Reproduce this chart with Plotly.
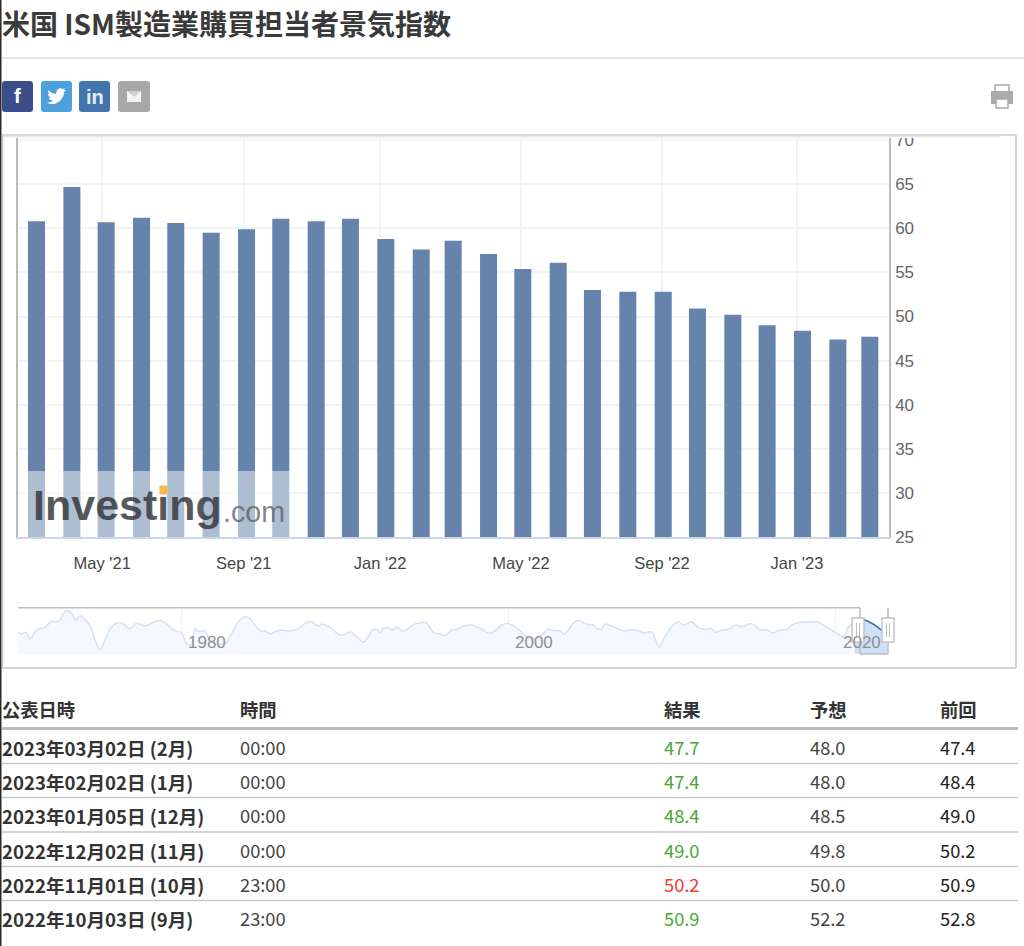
"""米国 ISM製造業購買担当者景気指数: bar chart, navigator strip and release table."""
import plotly.graph_objects as go

W, H = 1024, 946
CJK = "Noto Sans CJK JP"
LATIN = "Liberation Sans"

# main bars, one per month
MONTHS = [
    "2021-03-01", "2021-04-01", "2021-05-01", "2021-06-01", "2021-07-01",
    "2021-08-01", "2021-09-01", "2021-10-01", "2021-11-01", "2021-12-01",
    "2022-01-01", "2022-02-01", "2022-03-01", "2022-04-01", "2022-05-01",
    "2022-06-01", "2022-07-01", "2022-08-01", "2022-09-01", "2022-10-01",
    "2022-11-01", "2022-12-01", "2023-01-01", "2023-02-01", "2023-03-01",
]
PMI = [
    60.8, 64.7, 60.7, 61.2, 60.6, 59.5, 59.9, 61.1, 60.8, 61.1, 58.8, 57.6, 58.6,
    57.1, 55.4, 56.1, 53.0, 52.8, 52.8, 50.9, 50.2, 49.0, 48.4, 47.4, 47.7,
]
X_TICKS = ["2021-04-27 14:00", "2021-08-29 12:00", "2021-12-27 00:00",
           "2022-04-29 10:00", "2022-08-30 22:00", "2022-12-27 04:00"]
X_LABELS = ["May '21", "Sep '21", "Jan '22", "May '22", "Sep '22", "Jan '23"]
Y_TICKS = [25, 30, 35, 40, 45, 50, 55, 60, 65, 70]

# navigator history
NAV_YEARS = [
    1970.07, 1970.25, 1970.46, 1970.6, 1970.8, 1971.0, 1971.27, 1971.68, 1972.03, 1972.56,
    1972.8, 1973.05, 1973.31, 1973.58, 1973.82, 1974.19, 1974.47, 1974.74, 1975.05, 1975.35,
    1975.76, 1976.17, 1976.47, 1976.84, 1977.29, 1977.8, 1978.1, 1978.61, 1979.02, 1979.53,
    1980.04, 1980.35, 1980.65, 1980.86, 1981.06, 1981.37, 1981.67, 1981.98, 1982.59, 1982.79,
    1983.1, 1983.51, 1983.81, 1984.12, 1984.42, 1984.83, 1985.14, 1985.48, 1985.85, 1986.26,
    1986.67, 1987.18, 1987.73, 1987.99, 1988.4, 1988.64, 1989.11, 1989.32, 1989.68, 1990.03,
    1990.38, 1990.74, 1991.15, 1991.46, 1991.72, 1991.97, 1992.21, 1992.42, 1992.68, 1992.95,
    1993.15, 1993.5, 1993.7, 1994.21, 1994.62, 1994.98, 1995.43, 1995.84, 1996.15, 1996.55,
    1996.86, 1997.27, 1997.72, 1998.29, 1998.86, 1999.2, 1999.61, 2000.02, 2000.43, 2001.04,
    2001.55, 2002.16, 2002.47, 2002.88, 2003.18, 2003.43, 2004.1, 2004.4, 2004.81, 2005.18,
    2005.46, 2005.73, 2005.93, 2006.44, 2007.05, 2007.57, 2007.97, 2008.32, 2008.79, 2008.99,
    2009.24, 2009.54, 2010.01, 2010.42, 2010.73, 2011.23, 2011.64, 2012.05, 2012.35, 2012.72,
    2013.07, 2013.48, 2013.88, 2014.29, 2014.9, 2015.41, 2015.82, 2016.23, 2016.64, 2017.04,
    2017.35, 2017.86, 2018.37, 2018.88, 2019.29, 2020.0, 2020.51, 2020.82, 2021.13,
]
NAV_VALUES = [
    48.9, 47.0, 48.9, 46.6, 40.9, 47.7, 52.6, 54.5, 60.5, 61.7,
    70.3, 73.7, 70.3, 62.8, 67.7, 62.1, 55.3, 40.2, 28.9, 40.2,
    55.3, 59.8, 58.3, 52.6, 59.0, 56.0, 58.3, 62.1, 59.8, 51.5,
    47.7, 35.7, 35.3, 53.4, 49.6, 50.7, 44.7, 36.4, 35.7, 37.2,
    47.7, 60.9, 65.8, 65.8, 59.8, 50.7, 50.4, 47.0, 50.7, 51.1,
    50.4, 53.4, 60.5, 60.9, 56.0, 58.3, 54.5, 51.5, 45.8, 46.6,
    49.2, 44.0, 37.9, 44.0, 51.5, 52.2, 48.5, 53.8, 54.1, 51.5,
    55.3, 50.7, 50.4, 57.5, 59.4, 59.8, 48.9, 47.0, 45.1, 51.5,
    52.2, 56.0, 57.1, 53.4, 47.7, 50.7, 57.1, 58.7, 55.3, 45.8,
    41.0, 47.7, 52.6, 50.7, 50.7, 47.0, 60.9, 62.1, 57.9, 57.5,
    52.6, 52.6, 58.3, 55.3, 50.7, 51.9, 50.7, 48.1, 49.6, 42.1,
    31.9, 42.1, 55.3, 60.9, 57.1, 60.9, 54.1, 52.2, 53.4, 48.9,
    51.5, 52.2, 57.1, 55.3, 58.7, 52.2, 51.5, 48.1, 51.5, 52.2,
    57.1, 60.2, 60.5, 60.9, 57.1, 48.9, 44.0, 55.3, 59.0,
]
SEL_YEARS = [2021.2, 2021.55, 2021.94, 2022.35, 2022.8, 2023.2]
SEL_VALUES = [60.0, 64.0, 62.0, 58.0, 52.0, 47.7]

# release table
TABLE_HEAD = ["公表日時", "時間", "結果", "予想", "前回"]
RELEASE_DATES = ["2023年03月02日 (2月)", "2023年02月02日 (1月)", "2023年01月05日 (12月)",
                 "2022年12月02日 (11月)", "2022年11月01日 (10月)", "2022年10月03日 (9月)"]
RELEASE_TIMES = ["00:00", "00:00", "00:00", "00:00", "23:00", "23:00"]
ACTUAL = ["47.7", "47.4", "48.4", "49.0", "50.2", "50.9"]
ACTUAL_COLORS = ["#4aa736", "#4aa736", "#4aa736", "#4aa736", "#ee3a2f", "#4aa736"]
FORECAST = ["48.0", "48.0", "48.5", "49.8", "50.0", "52.2"]
PREVIOUS = ["47.4", "48.4", "49.0", "50.2", "50.9", "52.8"]
ROW_Y = [747, 781, 815, 850, 884, 918]
ROW_LINES = [763.5, 797.5, 832, 866.5, 900.5]


def fx(x):
    return x / W


def fy(y):
    return 1 - y / H


def rect(x0, y0, x1, y1, fill, line=None, width=1, opacity=1):
    return dict(type="rect", xref="paper", yref="paper", layer="above",
                x0=fx(x0), x1=fx(x1), y0=fy(y0), y1=fy(y1),
                fillcolor=fill, opacity=opacity,
                line=dict(color=line or "rgba(0,0,0,0)", width=width if line else 0))


def seg(x0, y0, x1, y1, color, width=1):
    return dict(type="line", xref="paper", yref="paper", layer="above",
                x0=fx(x0), x1=fx(x1), y0=fy(y0), y1=fy(y1),
                line=dict(color=color, width=width))


def poly(points, fill):
    path = "M " + " L ".join(f"{fx(x):.5f},{fy(y):.5f}" for x, y in points) + " Z"
    return dict(type="path", xref="paper", yref="paper", layer="above", path=path,
                fillcolor=fill, line=dict(width=0))


def button(x0, y0, x1, y1, fill, r=3):
    # rounded square for the share icons
    def p(x, y):
        return f"{fx(x):.5f},{fy(y):.5f}"
    path = (f"M {p(x0 + r, y0)} L {p(x1 - r, y0)} Q {p(x1, y0)} {p(x1, y0 + r)} "
            f"L {p(x1, y1 - r)} Q {p(x1, y1)} {p(x1 - r, y1)} "
            f"L {p(x0 + r, y1)} Q {p(x0, y1)} {p(x0, y1 - r)} "
            f"L {p(x0, y0 + r)} Q {p(x0, y0)} {p(x0 + r, y0)} Z")
    return dict(type="path", xref="paper", yref="paper", layer="above", path=path,
                fillcolor=fill, line=dict(width=0))


def label(x, y, text, size, color, anchor="left", bold=False, family=CJK):
    if bold:
        text = f"<b>{text}</b>"
    return dict(xref="paper", yref="paper", x=fx(x), y=fy(y), text=text, showarrow=False,
                xanchor=anchor, yanchor="middle", align=anchor,
                font=dict(family=family, size=size, color=color), borderpad=0)


fig = go.Figure()

fig.add_trace(go.Bar(
    x=MONTHS, y=PMI, width=1.287e9, marker=dict(color="#6583ab", line=dict(width=0)),
    xaxis="x", yaxis="y", hoverinfo="x+y",
))
fig.add_trace(go.Scatter(
    x=NAV_YEARS, y=NAV_VALUES, mode="lines", fill="tozeroy", fillcolor="#f5f8fe",
    line=dict(color="#d6e2f1", width=1.5, shape="spline"),
    xaxis="x2", yaxis="y2", hoverinfo="skip",
))
fig.add_trace(go.Scatter(
    x=SEL_YEARS, y=SEL_VALUES, mode="lines", fill="tozeroy", fillcolor="#cfe0f9",
    line=dict(color="#2f6ab5", width=1.5),
    xaxis="x2", yaxis="y2", hoverinfo="skip",
))

shapes = [
    # page chrome
    rect(0, 0, 1.5, H, "#2a2a2a"),
    seg(2, 58, W, 58, "#dcdcdc", 1.5),
    rect(2, 116, W, 135, "#ffffff"),
    # chart box and its soft top shadow
    rect(2, 135, 1016, 137.5, "#ffffff"),
    rect(3, 136, 1000, 137, "#e8e8e8"),
    rect(3, 137, 1000, 138, "#f5f5f5"),
    seg(2.5, 135, 1016, 135, "#cfcfcf", 1.5),
    seg(2.5, 135, 2.5, 668, "#c4c4c4", 1.5),
    seg(1016, 135, 1016, 668, "#c4c4c4", 1.5),
    seg(2.5, 668, 1016, 668, "#c4c4c4", 1.5),
    # share buttons
    button(2, 81, 33, 112, "#3b4e8a"),
    button(41, 81, 72, 112, "#4ca0db"),
    button(79, 81, 110, 112, "#4275ad"),
    button(118, 81, 150, 112, "#a8a8a8"),
    poly([(48, 90), (52, 93), (56, 94), (57, 90), (60, 88), (63, 89), (65, 88), (64, 90),
          (66, 90), (64, 92), (63.5, 96), (60, 101), (55, 104), (50, 104), (47, 102.5),
          (51, 102), (53, 100.5), (50, 100), (49, 98), (50.5, 97.5), (48.5, 96), (48, 94),
          (49.5, 94.5), (48, 92)], "#ffffff"),
    rect(127, 91, 141, 102, "#f4f4f4"),
    poly([(127, 91), (141, 91), (134, 97)], "#d0d0d0"),
    # printer icon
    rect(995, 85, 1009, 92, "#ffffff", "#ababab", 1.5),
    rect(991, 91, 1013, 104, "#ababab"),
    rect(996, 99, 1008, 108, "#ffffff", "#ababab", 1.5),
    # watermark wash over the first bars
    rect(19, 471, 290, 537, "#ffffff", opacity=0.47),
    # navigator outline and handles
    seg(18, 607.7, 860, 607.7, "#bdbdbd", 1.5),
    seg(860, 607.7, 860, 654, "#bdbdbd", 1.5),
    seg(860, 654, 888, 654, "#bdbdbd", 1.5),
    seg(888, 607.7, 888, 654, "#bdbdbd", 1.5),
    rect(852, 618, 864, 642, "#ffffff", "#c4c4c4", 1.5),
    seg(856.5, 623, 856.5, 637, "#bdbdbd", 1),
    seg(859.5, 623, 859.5, 637, "#bdbdbd", 1),
    rect(882, 618, 894, 642, "#ffffff", "#c4c4c4", 1.5),
    seg(886.5, 623, 886.5, 637, "#bdbdbd", 1),
    seg(889.5, 623, 889.5, 637, "#bdbdbd", 1),
    # table rules
    seg(2, 728.5, 1018, 728.5, "#bcbcbc", 3),
]
shapes += [seg(2, y, 1018, y, "#c6c6c6", 1.5) for y in ROW_LINES]

annotations = [
    label(1, 23, "米国 ISM製造業購買担当者景気指数", 28, "#3a3a3a", bold=True),
    label(17.5, 96.5, "f", 20, "#ffffff", "center", True, LATIN),
    label(95, 97, "in", 20, "#e8eef6", "center", True, LATIN),
    label(32, 505, "Investing", 43, "rgba(55,58,62,0.85)", bold=True, family=LATIN),
    label(222, 512, ".com", 28.6, "rgba(90,90,90,0.75)", family=LATIN),
    # orange accent sits on top of the logo's i
    dict(xref="paper", yref="paper", x=fx(163.5), y=fy(490), text=" ", showarrow=False,
         width=7, height=8, bgcolor="#f5b94f", borderpad=0, xanchor="center", yanchor="middle",
         font=dict(size=6)),
    label(187, 642, "1980", 17, "#909090", family=LATIN),
    label(514, 642, "2000", 17, "#909090", family=LATIN),
    label(842, 642, "2020", 17, "#909090", family=LATIN),
    label(1, 709, TABLE_HEAD[0], 18.3, "#333333", bold=True),
    label(239, 709, TABLE_HEAD[1], 18.3, "#333333", bold=True),
    label(682, 709, TABLE_HEAD[2], 18.3, "#333333", "center", True),
    label(828, 709, TABLE_HEAD[3], 18.3, "#333333", "center", True),
    label(958, 709, TABLE_HEAD[4], 18.3, "#333333", "center", True),
]
for i, y in enumerate(ROW_Y):
    annotations += [
        label(1, y, RELEASE_DATES[i], 18.6, "#333333", bold=True),
        label(239, y, RELEASE_TIMES[i], 18.3, "#444444"),
        label(682, y, ACTUAL[i], 18.3, ACTUAL_COLORS[i], "center"),
        label(828, y, FORECAST[i], 18.3, "#444444", "center"),
        label(958, y, PREVIOUS[i], 18.3, "#222222", "center"),
    ]

fig.update_layout(
    width=W, height=H, margin=dict(l=0, r=0, t=0, b=0, autoexpand=False),
    paper_bgcolor="#ffffff", plot_bgcolor="#ffffff", showlegend=False,
    shapes=shapes, annotations=annotations,
    xaxis=dict(
        domain=[fx(18), fx(889)], range=["2021-02-12 19:00", "2023-03-17 19:00"], type="date",
        tickmode="array", tickvals=X_TICKS, ticktext=X_LABELS,
        showgrid=True, gridcolor="#f3f3f3", gridwidth=1.5, zeroline=False,
        showline=True, linecolor="#ccd6eb", linewidth=1.5,
        ticks="outside", ticklen=10, tickcolor="rgba(0,0,0,0)",
        tickfont=dict(family=LATIN, size=16.5, color="#444444"),
    ),
    yaxis=dict(
        domain=[fy(537), fy(137.5)], range=[25, 70.3], side="right", anchor="x",
        tickmode="array", tickvals=Y_TICKS,
        showgrid=True, gridcolor="#f3f3f3", gridwidth=1.5, zeroline=False,
        showline=True, mirror=True, linecolor="#bbbbbb", linewidth=1.5,
        ticks="outside", ticklen=1, tickcolor="rgba(0,0,0,0)",
        tickfont=dict(family=LATIN, size=17, color="#666666"),
    ),
    xaxis2=dict(
        domain=[fx(18), fx(889)], range=[1970.03, 2023.3], anchor="y2",
        tickmode="array", tickvals=[1980, 2000, 2020], showticklabels=False,
        showgrid=True, gridcolor="#f0f0f0", zeroline=False,
    ),
    yaxis2=dict(
        domain=[fy(654), fy(608)], range=[24.3, 76.4], anchor="x2",
        showgrid=False, showticklabels=False, zeroline=False,
    ),
)

fig.write_html("out.html", config=dict(displayModeBar=False),
               post_script="document.body.style.margin='0';")
